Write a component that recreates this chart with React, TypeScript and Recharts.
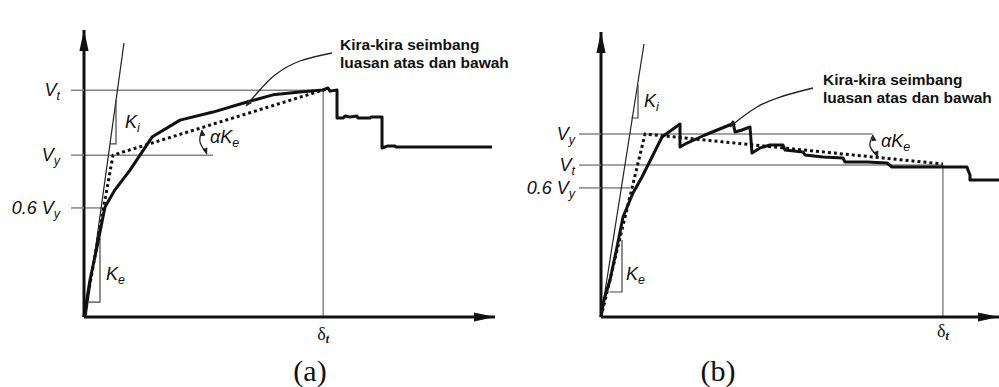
import React from "react";
import { ComposedChart, Line, Scatter, XAxis, YAxis, ReferenceLine } from "recharts";

type P = [number, number];

const SANS = '"Liberation Sans", Arial, Helvetica, sans-serif';
const SERIF = '"Liberation Serif", "Times New Roman", serif';
const INK = "#111";
const GUIDE = "#858585";

// both panels use chart units 0..100 on each axis (displacement, base shear)

// (a)
const levelsA = [79.0, 56.4, 38.0];
const levelNamesA = [["V", "t"], ["V", "y"], ["0.6 V", "y"]];
const levelReachA = [58.2, 31.4, 4.6];
const deltaA = 58.2;
const curveA: P[] = [
  [0, 0], [1.46, 12.9], [3.16, 24.4], [5.11, 38.3], [7.54, 44.3], [11.19, 51.2], [16.55, 62.7],
  [23.36, 68.6], [31.39, 71.4], [39.66, 74.9], [45.99, 77.4], [52.55, 78.4], [58.15, 79.1],
  [59.37, 79.8], [59.85, 78.7], [61.56, 79.1], [61.56, 69.3], [63.02, 69.3], [63.5, 70.0],
  [64.72, 69.7], [66.42, 70.0], [66.67, 69.3], [69.59, 69.3], [69.83, 69.7], [72.51, 69.7],
  [72.51, 58.9], [73.97, 59.6], [75.67, 59.6], [75.91, 59.2], [99.27, 59.2],
];
const bilinA: P[] = [[0, 0], [7.06, 56.4], [58.9, 79.4]];
const kiLineA: P[] = [[0.49, 0], [9.73, 95.5]];
const kiTriA: P[] = [[7.79, 75.6], [7.79, 60.3], [6.33, 60.3]];
const keTriA: P[] = [[3.89, 27.5], [3.89, 5.2], [1.22, 5.2]];
const alphaArcA: P[] = [[28.71, 65.16], [28.22, 60.98], [29.93, 56.79]];
const noteArcA: P[] = [[60.34, 91.99], [52.55, 89.2], [46.47, 84.32], [42.34, 78.4], [39.42, 73.5]];
const tipsA = [
  { x: 28.71, y: 65.16, dir: -100 },
  { x: 29.93, y: 56.79, dir: 70 },
  { x: 39.42, y: 73.5, dir: 130 },
];
const symbolsA = [
  { x: 10.0, y: 65.85, sym: ["K", "i"] },
  { x: 5.35, y: 12.9, sym: ["K", "e"] },
  { x: 30.66, y: 60.6, sym: ["\u03b1K", "e"] },
];
const noteA = [{ x: 62.29, y: 93.03, lines: ["Kira-kira seimbang", "luasan atas dan bawah"] }];

// (b)
const levelsB = [64.2, 53.3, 45.3];
const levelNamesB = [["V", "y"], ["V", "t"], ["0.6 V", "y"]];
const levelReachB = [68.3, 85.9, 7.3];
const deltaB = 85.9;
const curveB: P[] = [
  [0, 0], [0.75, 5.96], [2.26, 12.98], [4.02, 24.56], [5.53, 35.09], [6.78, 39.3], [8.04, 43.51],
  [10.3, 49.12], [15.33, 63.16], [19.85, 67.72], [19.85, 59.65], [21.61, 61.05], [26.13, 63.86],
  [32.91, 67.72], [33.17, 68.42], [33.67, 64.91], [35.43, 65.61], [37.44, 66.67], [37.94, 57.54],
  [39.95, 59.3], [42.46, 60.35], [45.73, 60.35], [46.23, 58.6], [50.75, 57.89], [51.26, 56.84],
  [55.78, 56.14], [60.8, 55.79], [61.31, 54.39], [66.83, 54.39], [71.86, 54.04], [73.12, 52.63],
  [91.96, 52.63], [92.21, 51.58], [92.71, 49.82], [92.71, 48.07], [100, 48.07],
];
const bilinB: P[] = [[0, 0], [11.06, 64.2], [85.93, 53.68]];
const kiLineB: P[] = [[0, 0], [10.8, 95.79]];
const kiTriB: P[] = [[9.3, 81.4], [9.3, 69.82], [7.6, 69.82]];
const keTriB: P[] = [[5.28, 27.02], [5.28, 8.77], [2.26, 8.77]];
const alphaArcB: P[] = [[68.34, 63.86], [67.59, 60.0], [69.6, 56.14]];
const noteArcB: P[] = [[53.27, 80.35], [44.97, 77.19], [39.2, 73.68], [35.18, 69.82], [32.41, 66.67]];
const tipsB = [
  { x: 68.34, y: 63.86, dir: -100 },
  { x: 69.6, y: 56.14, dir: 70 },
  { x: 32.41, y: 66.67, dir: 135 },
];
const symbolsB = [
  { x: 10.8, y: 73.68, sym: ["K", "i"] },
  { x: 6.28, y: 12.98, sym: ["K", "e"] },
  { x: 70.35, y: 59.65, sym: ["\u03b1K", "e"] },
];
const noteB = [{ x: 55.78, y: 81.4, lines: ["Kira-kira seimbang", "luasan atas dan bawah"] }];

// axis arrow tips sit at the ends of the domain
const axisTips = [
  { x: 0, y: 100, dir: -90 },
  { x: 100, y: 0, dir: 0 },
];

const pts = (a: P[]) => a.map(([x, y]) => ({ x, y }));

function arrowPath(cx: number, cy: number, dir: number, len: number, half: number) {
  const a = (dir * Math.PI) / 180;
  const bx = cx - len * Math.cos(a);
  const by = cy - len * Math.sin(a);
  const px = -Math.sin(a) * half;
  const py = Math.cos(a) * half;
  return `M${cx},${cy}L${bx + px},${by + py}L${bx - px},${by - py}Z`;
}

const LevelTick = (p: any) => {
  const i = p.levels.indexOf(p.payload.value);
  const [main, sub] = p.names[i] || ["", ""];
  return (
    <text x={p.x} y={p.y + 6} textAnchor="end" fontFamily={SANS} fontStyle="italic" fontSize={18} fill={INK}>
      {main}
      <tspan dy={4} fontSize={12.5}>{sub}</tspan>
    </text>
  );
};

const DeltaTick = (p: any) => (
  <text x={p.x} y={p.y + p.dy} textAnchor="middle" fontFamily={SERIF} fontSize={18} fill={INK}>
    {"\u03b4"}
    <tspan dy={3} fontSize={12} fontWeight="bold" fontStyle="italic">t</tspan>
  </text>
);

function Panel(props: any) {
  const {
    left, width, margin, yWidth, tickSize, tickGap, levels, names, reach, delta, deltaTop, deltaDy,
    curve, bilin, ki, kiTri, keTri, alphaArc, noteArc, tips, symbols, note,
  } = props;
  const guide = { stroke: GUIDE, strokeWidth: 1.5 };
  const thin = (key: string, data: P[], color = "#333", w = 1.2) => (
    <Line key={key} data={pts(data)} dataKey="y" type="linear" stroke={color} strokeWidth={w}
      dot={false} activeDot={false} isAnimationActive={false} />
  );
  return (
    <div style={{ position: "absolute", left, top: 0 }}>
      <ComposedChart width={width} height={387} margin={margin}>
        <XAxis type="number" dataKey="x" domain={[0, 100]} ticks={[delta]} interval={0}
          tickLine={false} tickSize={0} tickMargin={0} height={30}
          axisLine={{ stroke: INK, strokeWidth: 3 }} tick={<DeltaTick dy={deltaDy} />} />
        <YAxis type="number" dataKey="y" domain={[0, 100]} ticks={levels} interval={0}
          width={yWidth} tickSize={tickSize} tickMargin={tickGap} tickLine={guide}
          axisLine={{ stroke: INK, strokeWidth: 3 }} tick={<LevelTick levels={levels} names={names} />} />
        {levels.map((v: number, i: number) => (
          <ReferenceLine key={"lv" + i} segment={[{ x: 0, y: v }, { x: reach[i], y: v }]} {...guide} />
        ))}
        <ReferenceLine segment={[{ x: delta, y: 0 }, { x: delta, y: deltaTop }]} {...guide} />
        {thin("ki", ki, "#222", 1.2)}
        {thin("kiTri", kiTri, "#444", 1.2)}
        {thin("keTri", keTri, "#444", 1.2)}
        <Line data={pts(alphaArc)} dataKey="y" type="natural" stroke="#222" strokeWidth={1.3}
          dot={false} activeDot={false} isAnimationActive={false} />
        <Line data={pts(noteArc)} dataKey="y" type="natural" stroke="#222" strokeWidth={1.3}
          dot={false} activeDot={false} isAnimationActive={false} />
        <Line data={pts(bilin)} dataKey="y" type="linear" stroke={INK} strokeWidth={3}
          strokeDasharray="3 3" dot={false} activeDot={false} isAnimationActive={false} />
        <Line data={pts(curve)} dataKey="y" type="linear" stroke={INK} strokeWidth={3}
          strokeLinejoin="round" dot={false} activeDot={false} isAnimationActive={false} />
        <Scatter data={tips} dataKey="y" isAnimationActive={false}
          shape={(s: any) => <path d={arrowPath(s.cx, s.cy, s.payload.dir, 6, 2.6)} fill="#222" />} />
        <Scatter data={axisTips} dataKey="y" isAnimationActive={false}
          shape={(s: any) => <path d={arrowPath(s.cx, s.cy, s.payload.dir, 21, 4.6)} fill={INK} />} />
        <Scatter data={symbols} dataKey="y" isAnimationActive={false}
          shape={(s: any) => (
            <text x={s.cx} y={s.cy} fontFamily={SANS} fontStyle="italic" fontSize={18} fill={INK}>
              {s.payload.sym[0]}
              <tspan dy={4} fontSize={12.5}>{s.payload.sym[1]}</tspan>
            </text>
          )} />
        <Scatter data={note} dataKey="y" isAnimationActive={false}
          shape={(s: any) => (
            <text x={s.cx} y={s.cy} fontFamily={SANS} fontWeight="bold" fontSize={15.5} fill={INK}>
              {s.payload.lines.map((t: string, i: number) => (
                <tspan key={i} x={s.cx} dy={i === 0 ? 0 : 18}>{t}</tspan>
              ))}
            </text>
          )} />
      </ComposedChart>
    </div>
  );
}

export default function App() {
  return (
    <div style={{ position: "absolute", left: 0, top: 0, width: 999, height: 387, background: "#fff", overflow: "hidden" }}>
      <Panel left={0} width={520} margin={{ top: 30, right: 25, left: 24, bottom: 40 }}
        yWidth={60} tickSize={13} tickGap={11} levels={levelsA} names={levelNamesA} reach={levelReachA}
        delta={deltaA} deltaTop={levelsA[0]} deltaDy={23} curve={curveA} bilin={bilinA} ki={kiLineA}
        kiTri={kiTriA} keTri={keTriA} alphaArc={alphaArcA} noteArc={noteArcA} tips={tipsA}
        symbols={symbolsA} note={noteA} />
      <Panel left={500} width={499} margin={{ top: 32, right: 0, left: 21, bottom: 40 }}
        yWidth={80} tickSize={22} tickGap={4} levels={levelsB} names={levelNamesB} reach={levelReachB}
        delta={deltaB} deltaTop={levelsB[1]} deltaDy={20} curve={curveB} bilin={bilinB} ki={kiLineB}
        kiTri={kiTriB} keTri={keTriB} alphaArc={alphaArcB} noteArc={noteArcB} tips={tipsB}
        symbols={symbolsB} note={noteB} />
      <svg width={999} height={387} style={{ position: "absolute", left: 0, top: 0, pointerEvents: "none" }}>
        <text x={310} y={381} textAnchor="middle" fontFamily={SERIF} fontSize={30} fill={INK}>(a)</text>
        <text x={718} y={381} textAnchor="middle" fontFamily={SERIF} fontSize={30} fill={INK}>(b)</text>
      </svg>
    </div>
  );
}
